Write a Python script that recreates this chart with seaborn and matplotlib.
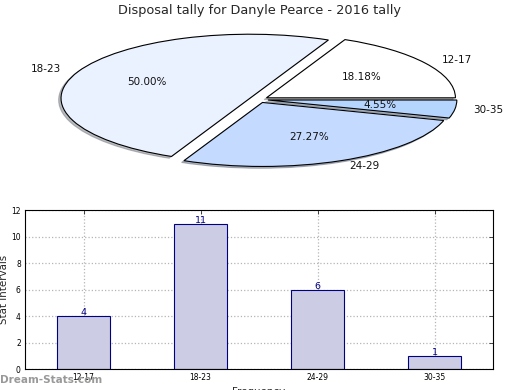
import matplotlib
matplotlib.use("Agg")
import matplotlib.pyplot as plt
import seaborn as sns
import pandas as pd

categories = ["12-17", "18-23", "24-29", "30-35"]
counts = [4, 11, 6, 1]
pie_colors = ["#FFFFFF", "#EAF1FF", "#C5DAFF", "#B5D5FF"]
title = "Disposal tally for Danyle Pearce - 2016 tally"

sns.set_style("white")
plt.rcParams['font.family'] = ['DejaVu Sans']

fig = plt.figure(figsize=(5.2, 3.9), dpi=100)

# Pie
ax_pie = fig.add_axes([0.0067, 0.515, 0.981, 0.4595])
wedges, texts, autotexts = ax_pie.pie(
    counts, labels=categories, colors=pie_colors, explode=[0.05] * 4,
    autopct="%1.2f%%", startangle=0,
    shadow=dict(ox=-0.009, oy=-0.02, shade=0.5),
    labeldistance=1.1, pctdistance=0.6,
    wedgeprops=dict(edgecolor="black", linewidth=0.8),
    textprops=dict(fontsize=7.5, color="#111111"))
ax_pie.set_aspect("auto")
ax_pie.set_xlim(-1.35, 1.35)
ax_pie.set_ylim(-1.4, 1.4)
ax_pie.axis("off")
fig.text(0.5, 0.974, title, ha="center", va="center", fontsize=9.3)

# Bars
df = pd.DataFrame({"cat": categories, "count": counts})
ax = fig.add_axes([25 / 520, (390 - 369.3) / 390, 468 / 520, 159 / 390])
sns.barplot(data=df, x="cat", y="count", ax=ax, color="#CCCCE5",
            saturation=1, width=0.45, edgecolor="#000080", linewidth=0.8,
            zorder=2)
ax.set_xlim(-0.5, 3.5)
ax.set_ylim(0, 12)
ax.set_yticks(range(0, 13, 2))
ax.grid(True, color="#b5b5b5", linestyle=":", linewidth=0.9, zorder=0)
ax.set_axisbelow(True)
for s in ax.spines.values():
    s.set_visible(True)
    s.set_color("black")
    s.set_linewidth(0.8)
ax.tick_params(direction="in", top=True, right=True, length=3, width=0.5,
               labelsize=5.5, pad=3, colors="black")
for x, v in enumerate(counts):
    ax.text(x, v + 0.25, str(v), ha="center", va="center", fontsize=6.8,
            color="#000080")
ax.set_ylabel("Stat Intervals", fontsize=7.4)
ax.yaxis.set_label_coords(-0.034, 0.5)
ax.set_xlabel("Frequency", fontsize=7.4, labelpad=3)

fig.text(0.0, 10 / 390, "Dream-Stats.com", ha="left",
         va="center", fontsize=7.5, color="#999999", fontweight="bold")

fig.savefig("out.png", dpi=100)
